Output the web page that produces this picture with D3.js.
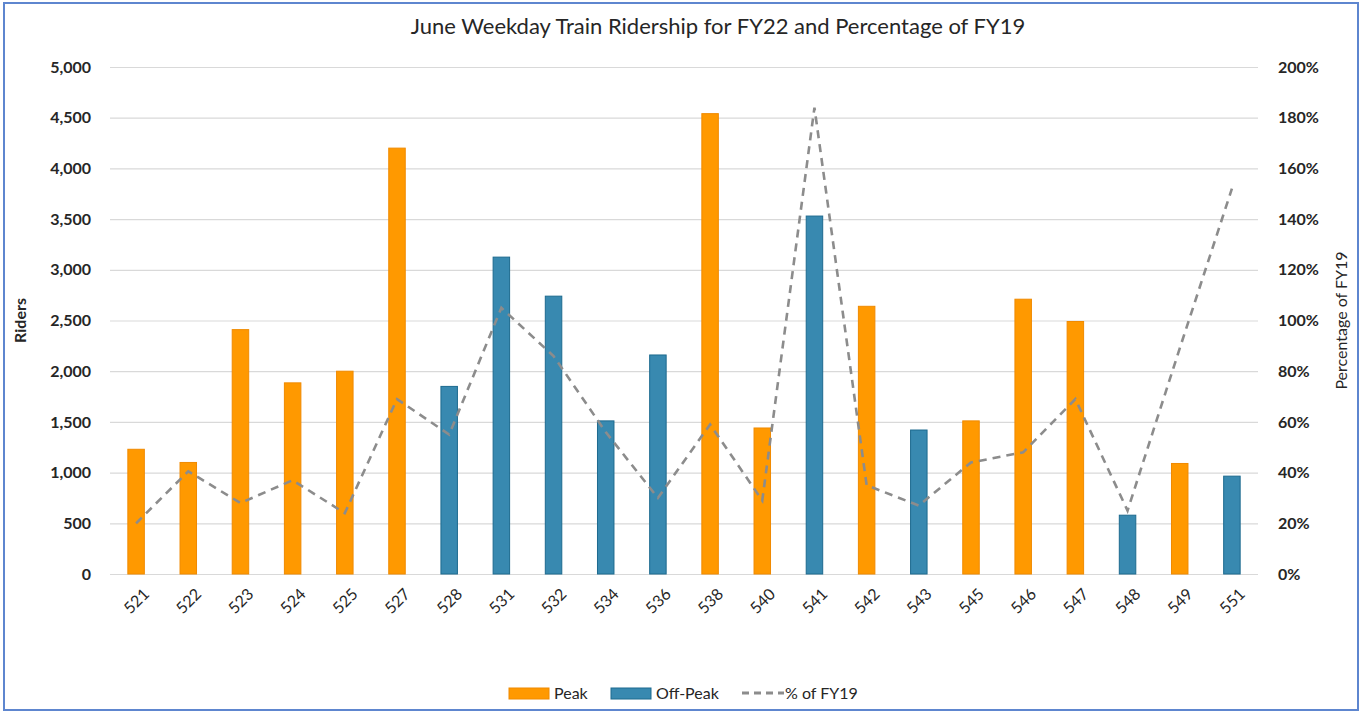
<!DOCTYPE html>
<html>
<head>
<meta charset="utf-8">
<script src="https://cdn.jsdelivr.net/npm/d3@7"></script>
<style>
  body { margin: 0; background: #fff; }
  svg { display: block; font-family: Lato, "Open Sans", sans-serif; }
</style>
</head>
<body>
<svg id="chart"></svg>
<script>
// train numbers on the x axis
const trains = ["521", "522", "523", "524", "525", "527", "528", "531", "532", "534", "536",
                "538", "540", "541", "542", "543", "545", "546", "547", "548", "549", "551"];
// June weekday riders, FY22
const riders = [1230, 1100, 2410, 1885, 2000, 4200, 1850, 3125, 2740, 1510, 2160,
                4540, 1440, 3530, 2640, 1420, 1510, 2710, 2490, 580, 1090, 965];
// peak / off-peak service for each train
const service = ["Peak", "Peak", "Peak", "Peak", "Peak", "Peak", "Off-Peak", "Off-Peak", "Off-Peak", "Off-Peak", "Off-Peak",
                 "Peak", "Peak", "Off-Peak", "Peak", "Off-Peak", "Peak", "Peak", "Peak", "Off-Peak", "Peak", "Off-Peak"];
// FY22 ridership as share of FY19
const pctFY19 = [0.20, 0.405, 0.28, 0.37, 0.24, 0.69, 0.55, 1.05, 0.86, 0.56, 0.30,
                 0.59, 0.29, 1.84, 0.35, 0.27, 0.44, 0.48, 0.69, 0.25, 0.89, 1.52];
const riderTicks = [0, 500, 1000, 1500, 2000, 2500, 3000, 3500, 4000, 4500, 5000];
const pctTicks = [0, 0.2, 0.4, 0.6, 0.8, 1.0, 1.2, 1.4, 1.6, 1.8, 2.0];

const width = 1363, height = 713;
const plotLeft = 110, plotRight = 1258, plotTop = 67, plotBottom = 574;

const orange = "#FF9900", orangeEdge = "#F08A00";
const blue = "#3889B0", blueEdge = "#1D6A8F";
const lineGrey = "#8C8C8C";

const svg = d3.select("#chart").attr("width", width).attr("height", height);

// chart frame
svg.append("rect")
   .attr("x", 4).attr("y", 3)
   .attr("width", 1354).attr("height", 707)
   .attr("fill", "none")
   .attr("stroke", "#5E86CF")
   .attr("stroke-width", 2);

const x = d3.scaleBand()
            .domain(trains)
            .range([plotLeft, plotRight])
            .paddingInner(0.684)
            .paddingOuter(0.342);

const y = d3.scaleLinear().domain([0, 5000]).range([plotBottom, plotTop]);
const y2 = d3.scaleLinear().domain([0, 2]).range([plotBottom, plotTop]);

// gridlines
svg.append("g")
   .attr("transform", `translate(${plotLeft},0)`)
   .call(d3.axisLeft(y).tickValues(riderTicks).tickSize(-(plotRight - plotLeft)).tickFormat(""))
   .call(g => g.select(".domain").remove())
   .call(g => g.selectAll("line").attr("stroke", "#D9D9D9").attr("stroke-width", 1.2));

// left axis
svg.append("g")
   .attr("transform", `translate(${plotLeft - 16},0)`)
   .call(d3.axisLeft(y).tickValues(riderTicks).tickSize(0).tickFormat(d3.format(",")))
   .call(g => g.select(".domain").remove())
   .call(g => g.selectAll("text")
               .attr("font-family", "Lato, sans-serif")
               .attr("font-size", 16)
               .attr("font-weight", "bold")
               .attr("fill", "#262626"));

// right axis
svg.append("g")
   .attr("transform", `translate(${plotRight + 20},0)`)
   .call(d3.axisRight(y2).tickValues(pctTicks).tickSize(0).tickFormat(d3.format(".0%")))
   .call(g => g.select(".domain").remove())
   .call(g => g.selectAll("text")
               .attr("x", 0)
               .attr("font-family", "Lato, sans-serif")
               .attr("font-size", 16)
               .attr("font-weight", "bold")
               .attr("fill", "#262626"));

// x axis labels
svg.append("g")
   .attr("transform", `translate(0,${plotBottom})`)
   .call(d3.axisBottom(x).tickSize(0))
   .call(g => g.select(".domain").remove())
   .call(g => g.selectAll("text")
               .attr("font-family", "Lato, sans-serif")
               .attr("font-size", 16)
               .attr("fill", "#262626")
               .attr("text-anchor", "end")
               .attr("dy", 0)
               .attr("transform", "translate(12,19) rotate(-45)"));

// bars
svg.append("g")
   .selectAll("rect")
   .data(trains)
   .join("rect")
   .attr("x", d => x(d))
   .attr("y", (d, i) => y(riders[i]))
   .attr("width", x.bandwidth())
   .attr("height", (d, i) => y(0) - y(riders[i]))
   .attr("fill", (d, i) => service[i] === "Peak" ? orange : blue)
   .attr("stroke", (d, i) => service[i] === "Peak" ? orangeEdge : blueEdge)
   .attr("stroke-width", 1);

// % of FY19 line
const line = d3.line()
               .x((d, i) => x(trains[i]) + x.bandwidth() / 2)
               .y(d => y2(d));

svg.append("path")
   .datum(pctFY19)
   .attr("d", line)
   .attr("fill", "none")
   .attr("stroke", lineGrey)
   .attr("stroke-width", 2.6)
   .attr("stroke-dasharray", "8,6");

// title
svg.append("text")
   .attr("x", 718).attr("y", 34)
   .attr("text-anchor", "middle")
   .attr("font-size", 22)
   .attr("fill", "#262626")
   .text("June Weekday Train Ridership for FY22 and Percentage of FY19");

// axis titles
svg.append("text")
   .attr("transform", `translate(26,${(plotTop + plotBottom) / 2}) rotate(-90)`)
   .attr("text-anchor", "middle")
   .attr("font-size", 16)
   .attr("font-weight", "bold")
   .attr("fill", "#262626")
   .text("Riders");

svg.append("text")
   .attr("transform", `translate(1347,${(plotTop + plotBottom) / 2}) rotate(-90)`)
   .attr("text-anchor", "middle")
   .attr("font-size", 16)
   .attr("fill", "#262626")
   .text("Percentage of FY19");

// legend
const legend = svg.append("g").attr("transform", "translate(0,693)");

legend.append("rect").attr("x", 509).attr("y", -5).attr("width", 40).attr("height", 11)
      .attr("fill", orange).attr("stroke", orangeEdge);
legend.append("text").attr("x", 554).attr("y", 6).attr("font-size", 16).attr("fill", "#262626").text("Peak");

legend.append("rect").attr("x", 611).attr("y", -5).attr("width", 40).attr("height", 11)
      .attr("fill", blue).attr("stroke", blueEdge);
legend.append("text").attr("x", 656).attr("y", 6).attr("font-size", 16).attr("fill", "#262626").text("Off-Peak");

legend.append("line").attr("x1", 742).attr("x2", 784).attr("y1", 0).attr("y2", 0)
      .attr("stroke", lineGrey).attr("stroke-width", 3).attr("stroke-dasharray", "7,5");
legend.append("text").attr("x", 785).attr("y", 6).attr("font-size", 16).attr("fill", "#262626").text("% of FY19");
</script>
</body>
</html>
